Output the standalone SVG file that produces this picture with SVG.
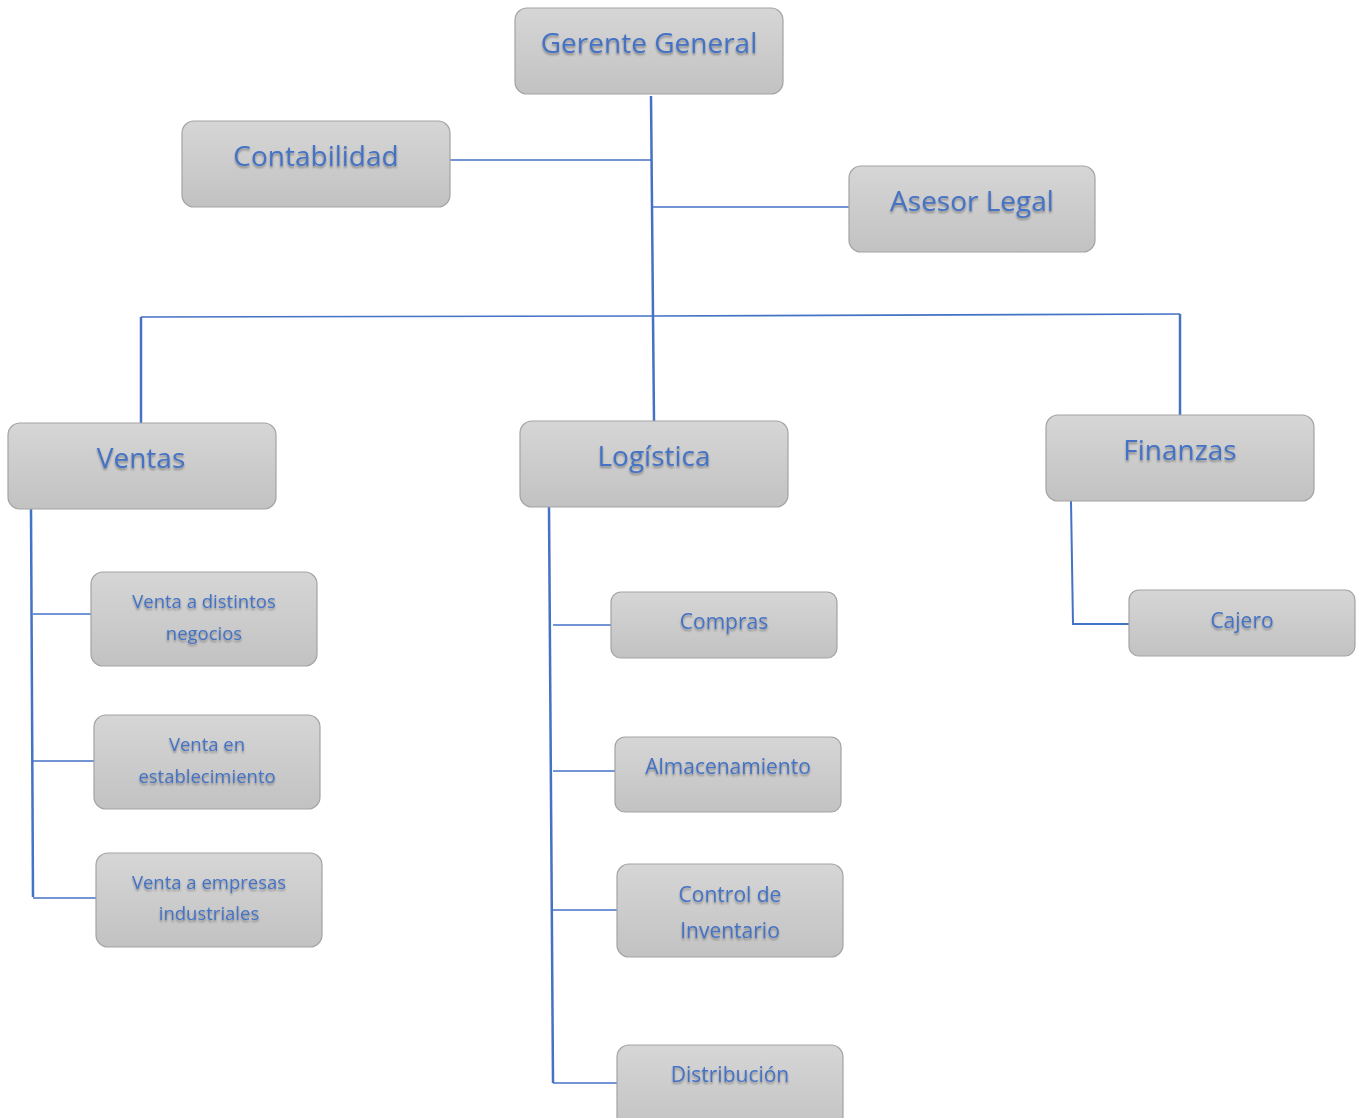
<svg xmlns="http://www.w3.org/2000/svg" width="1366" height="1118" viewBox="0 0 1366 1118">
<defs>
<linearGradient id="g" x1="0" y1="0" x2="0" y2="1">
<stop offset="0" stop-color="#d6d6d6"/>
<stop offset="1" stop-color="#c2c2c2"/>
</linearGradient>
<filter id="ts" x="-10%" y="-20%" width="120%" height="140%">
<feGaussianBlur in="SourceAlpha" stdDeviation="1"/>
<feOffset dx="0" dy="1.5" result="b"/>
<feComponentTransfer><feFuncA type="linear" slope="0.35"/></feComponentTransfer>
<feMerge><feMergeNode/><feMergeNode in="SourceGraphic"/></feMerge>
</filter>
</defs>
<style>
rect{fill:url(#g);stroke:#a3a3a3;stroke-width:1.2}
text{font-family:"Open Sans","Liberation Sans",sans-serif;fill:#4472c4;text-anchor:middle;filter:url(#ts)}
.l{font-size:28px}
.m{font-size:21px}
.s{font-size:18.5px}
.c line,.c polyline{stroke:#4472c4;fill:none}
</style>
<g class="c" id="connectors">
<line x1="651" y1="96" x2="653" y2="316" stroke-width="2.5"/>
<line x1="450" y1="160" x2="651" y2="160" stroke-width="1.5"/>
<line x1="653" y1="207" x2="849" y2="207" stroke-width="1.5"/>
<polyline points="141,317 653,316 1180,314" stroke-width="1.6"/>
<line x1="141" y1="317" x2="141" y2="423" stroke-width="2.5"/>
<line x1="653" y1="316" x2="654" y2="421" stroke-width="2.5"/>
<line x1="1180" y1="314" x2="1180" y2="415" stroke-width="2.5"/>
<line x1="31" y1="509" x2="33" y2="897" stroke-width="2.5"/>
<line x1="33" y1="614" x2="91" y2="614" stroke-width="1.5"/>
<line x1="33" y1="761" x2="94" y2="761" stroke-width="1.5"/>
<line x1="33" y1="898" x2="96" y2="898" stroke-width="1.5"/>
<line x1="549" y1="507" x2="553" y2="1083" stroke-width="2.5"/>
<line x1="553" y1="625" x2="611" y2="625" stroke-width="1.5"/>
<line x1="553" y1="771" x2="615" y2="771" stroke-width="1.5"/>
<line x1="553" y1="910" x2="617" y2="910" stroke-width="1.5"/>
<line x1="553" y1="1083" x2="617" y2="1083" stroke-width="1.5"/>
<polyline points="1071,501 1073,624 1129,624" stroke-width="2"/>
</g>
<g id="gerente"><rect x="515" y="8" width="268" height="86" rx="12"/><text class="l" x="649" y="53">Gerente General</text></g>
<g id="contabilidad"><rect x="182" y="121" width="268" height="86" rx="12"/><text class="l" x="316" y="166">Contabilidad</text></g>
<g id="asesor"><rect x="849" y="166" width="246" height="86" rx="12"/><text class="l" x="972" y="211">Asesor Legal</text></g>
<g id="ventas"><rect x="8" y="423" width="268" height="86" rx="12"/><text class="l" x="141" y="468">Ventas</text></g>
<g id="logistica"><rect x="520" y="421" width="268" height="86" rx="12"/><text class="l" x="654" y="466">Logística</text></g>
<g id="finanzas"><rect x="1046" y="415" width="268" height="86" rx="12"/><text class="l" x="1180" y="460">Finanzas</text></g>
<g id="v1"><rect x="91" y="572" width="226" height="94" rx="12"/><text class="s" x="204" y="608">Venta a distintos</text><text class="s" x="204" y="640">negocios</text></g>
<g id="v2"><rect x="94" y="715" width="226" height="94" rx="12"/><text class="s" x="207" y="751">Venta en</text><text class="s" x="207" y="783">establecimiento</text></g>
<g id="v3"><rect x="96" y="853" width="226" height="94" rx="12"/><text class="s" x="209" y="889">Venta a empresas</text><text class="s" x="209" y="920">industriales</text></g>
<g id="compras"><rect x="611" y="592" width="226" height="66" rx="10"/><text class="m" x="724" y="629">Compras</text></g>
<g id="almacen"><rect x="615" y="737" width="226" height="75" rx="10"/><text class="m" x="728" y="774">Almacenamiento</text></g>
<g id="control"><rect x="617" y="864" width="226" height="93" rx="12"/><text class="m" x="730" y="902">Control de</text><text class="m" x="730" y="938">Inventario</text></g>
<g id="distribucion"><rect x="617" y="1045" width="226" height="90" rx="12"/><text class="m" x="730" y="1082">Distribución</text></g>
<g id="cajero"><rect x="1129" y="590" width="226" height="66" rx="10"/><text class="m" x="1242" y="628">Cajero</text></g>
</svg>
